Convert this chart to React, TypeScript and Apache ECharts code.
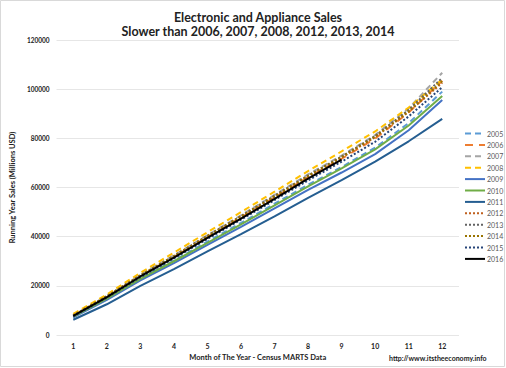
import React, { useEffect, useRef } from "react";
import * as echarts from "echarts";

const months = ["1", "2", "3", "4", "5", "6", "7", "8", "9", "10", "11", "12"];

const y2005 = [7400, 14800, 23000, 30300, 38000, 45600, 53400, 61100, 68300, 76200, 86200, 99000];
const y2006 = [7900, 15500, 24000, 31800, 39900, 47800, 56000, 64200, 71700, 79900, 90500, 103400];
const y2007 = [8000, 15800, 24500, 32400, 40600, 48700, 57000, 65300, 73000, 81300, 92200, 106700];
const y2008 = [8600, 16500, 25300, 33500, 41800, 50000, 58300, 66700, 74700, 82800, 92500, 104000];
const y2009 = [7200, 14300, 22200, 29200, 36700, 44000, 51500, 59000, 66100, 73600, 83300, 95600];
const y2010 = [7500, 14800, 22800, 30000, 37500, 45000, 52700, 60500, 67800, 75500, 85200, 97200];
const y2011 = [6200, 12500, 20000, 26800, 34000, 41000, 48300, 55800, 63000, 70500, 78800, 87900];
const y2012 = [7900, 15600, 24100, 31900, 40000, 48000, 56200, 64400, 72100, 80500, 90800, 102600];
const y2013 = [8000, 15800, 24300, 32200, 40400, 48400, 56700, 64900, 72600, 81000, 91600, 104600];
const y2014 = [7900, 15700, 24200, 32100, 40200, 48200, 56400, 64700, 72400, 80700, 91000, 103200];
const y2015 = [7600, 15200, 23500, 31200, 39100, 46900, 54900, 62900, 70500, 78600, 88900, 100800];
const y2016 = [7800, 15400, 23800, 31500, 39500, 47300, 55400, 63600, 71300];

const seriesDefs = [
  { name: "2005", data: y2005, color: "#5B9BD5", type: [6, 4] },
  { name: "2006", data: y2006, color: "#ED7D31", type: [8, 6] },
  { name: "2007", data: y2007, color: "#A5A5A5", type: [6, 4] },
  { name: "2008", data: y2008, color: "#FFC000", type: [6, 4] },
  { name: "2009", data: y2009, color: "#4472C4", type: "solid" },
  { name: "2010", data: y2010, color: "#70AD47", type: "solid" },
  { name: "2011", data: y2011, color: "#255E91", type: "solid" },
  { name: "2012", data: y2012, color: "#C0601E", type: [2, 2] },
  { name: "2013", data: y2013, color: "#636363", type: [2, 2] },
  { name: "2014", data: y2014, color: "#997300", type: [2, 2] },
  { name: "2015", data: y2015, color: "#264478", type: [2, 2] },
  { name: "2016", data: y2016, color: "#000000", type: "solid" },
];

const FONT = "Lato, 'Open Sans', sans-serif";

export default function App() {
  const ref = useRef<HTMLDivElement>(null);
  useEffect(() => {
    if (!ref.current) return;
    const chart = echarts.init(ref.current, null, { renderer: "svg" });
    chart.setOption({
      animation: false,
      textStyle: { fontFamily: FONT },
      title: {
        text: "Electronic and Appliance Sales\nSlower than 2006, 2007, 2008, 2012, 2013, 2014",
        left: 253,
        textAlign: "center",
        top: 5,
        textStyle: { fontSize: 12.5, fontWeight: "bold", color: "#222", lineHeight: 14, fontFamily: FONT },
      },
      grid: { left: 48, right: 47, top: 40, bottom: 33 },
      legend: {
        orient: "vertical",
        left: 459,
        top: 125,
        itemWidth: 20,
        itemHeight: 8,
        itemGap: 4.4,
        itemStyle: { opacity: 0 },
        textStyle: { fontSize: 7, color: "#595959", fontFamily: FONT, padding: [0, 0, 0, -3] },
        data: seriesDefs.map((s) => s.name),
      },
      xAxis: {
        type: "category",
        data: months,
        boundaryGap: true,
        name: "Month of The Year - Census MARTS Data",
        nameLocation: "middle",
        nameGap: 18,
        nameTextStyle: { fontSize: 7.5, fontWeight: "bold", color: "#222", fontFamily: FONT },
        axisLine: { show: false },
        axisTick: { show: false },
        axisLabel: { fontSize: 7, fontWeight: "bold", color: "#222", margin: 7 },
      },
      yAxis: {
        type: "value",
        min: 0,
        max: 120000,
        interval: 20000,
        name: "Running Year Sales (Millions USD)",
        nameLocation: "middle",
        nameGap: 29,
        nameTextStyle: { fontSize: 7.5, fontWeight: "bold", color: "#222", fontFamily: FONT },
        axisLine: { show: false },
        axisTick: { show: false },
        axisLabel: { fontSize: 6.5, fontWeight: "bold", color: "#222", margin: 7, formatter: (v: number) => String(v) },
        splitLine: { lineStyle: { color: "#E6E6E6", width: 1 } },
      },
      series: seriesDefs.map((s) => ({
        name: s.name,
        type: "line",
        data: s.data,
        symbol: "none",
        lineStyle: { color: s.color, width: 2, type: s.type },
        itemStyle: { color: s.color },
        emphasis: { disabled: true },
      })),
      graphic: [
        {
          type: "rect",
          shape: { x: 0.5, y: 0.5, width: 504, height: 366 },
          style: { fill: "none", stroke: "#D9D9D9", lineWidth: 1 },
          silent: true,
        },
        {
          type: "text",
          left: 389,
          top: 354,
          style: { text: "http://www.itstheeconomy.info", fontSize: 7, fontWeight: "bold", fill: "#222", fontFamily: FONT },
        },
      ],
    });
    return () => chart.dispose();
  }, []);
  return <div ref={ref} style={{ width: 506, height: 368, position: "absolute", left: 0, top: 0 }} />;
}
